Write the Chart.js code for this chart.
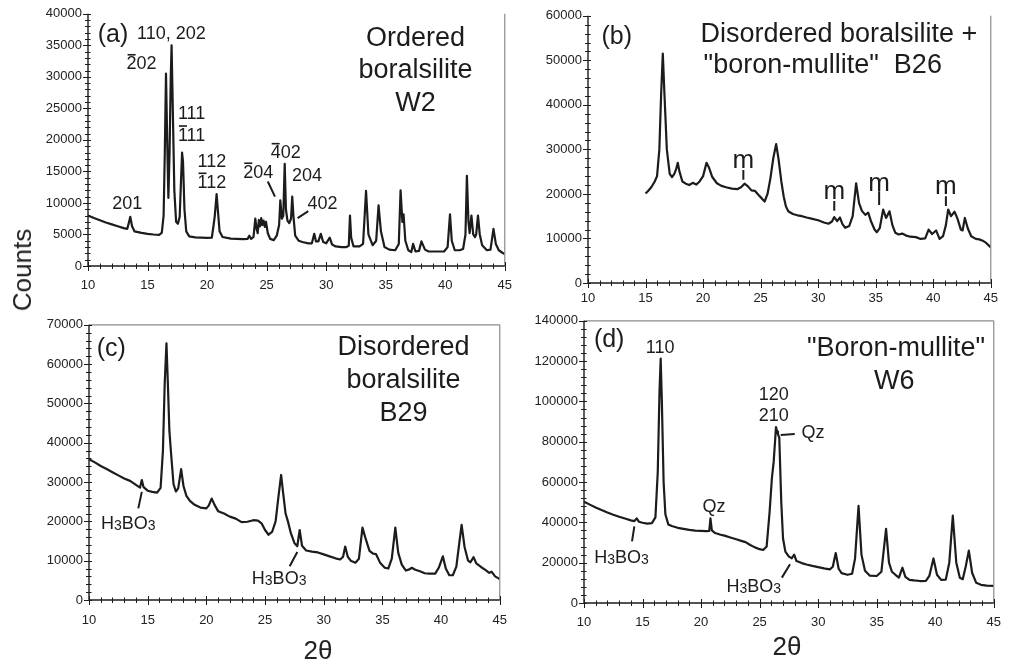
<!DOCTYPE html>
<html lang="en">
<head>
  <meta charset="UTF-8">
  <title>XRD patterns</title>
  <script src="https://cdn.jsdelivr.net/npm/chart.js"></script>
  <style>
    body { margin: 0; background: #fff; overflow: hidden; }
    #fig { position: relative; width: 1013px; height: 663px; font-family: 'Liberation Sans', Arial, sans-serif; color: #222; }
    #fig canvas { position: absolute; }
    .lbl { position: absolute; white-space: nowrap; font-size: 26px; line-height: 1; }
  </style>
</head>
<body>
<div id="fig">
  <canvas id="pa"></canvas>
  <canvas id="pb"></canvas>
  <canvas id="pc"></canvas>
  <canvas id="pd"></canvas>
  <div class="lbl" id="counts" style="left:22px; top:270px; transform: translate(-50%, -50%) rotate(-90deg);">Counts</div>
  <div class="lbl" style="left:318px; top:650px; transform: translate(-50%, -50%);">2θ</div>
  <div class="lbl" style="left:787px; top:646px; transform: translate(-50%, -50%);">2θ</div>
</div>

<script>
// ---- data: 2-theta (deg) and counts ----

// (a) ordered boralsilite W2
const aTheta = [10.0, 10.5, 11.0, 11.5, 12.0, 12.5, 13.0, 13.3, 13.45, 13.55, 13.7, 13.9, 14.5, 15.0, 15.5, 16.0, 16.2, 16.35, 16.45, 16.55,
  16.65, 16.75, 16.85, 16.95, 17.02, 17.12, 17.25, 17.4, 17.55, 17.7, 17.82, 17.9, 17.98, 18.1, 18.25, 18.5, 19.0, 19.5, 20.0, 20.4,
  20.55, 20.65, 20.8, 20.9, 21.05, 21.3, 22.0, 22.5, 23.0, 23.4, 23.55, 23.7, 23.9, 24.05, 24.15, 24.25, 24.35, 24.45, 24.55, 24.65,
  24.75, 24.85, 24.95, 25.1, 25.3, 25.6, 25.85, 26.05, 26.15, 26.28, 26.4, 26.52, 26.62, 26.75, 26.9, 27.05, 27.15, 27.25, 27.4, 27.7,
  28.0, 28.5, 28.8, 29.0, 29.15, 29.35, 29.55, 29.75, 30.0, 30.3, 30.5, 30.8, 31.3, 31.7, 31.9, 32.0, 32.1, 32.3, 32.8, 33.1,
  33.35, 33.55, 33.9, 34.2, 34.4, 34.6, 34.9, 35.3, 35.8, 36.1, 36.25, 36.4, 36.5, 36.65, 36.9, 37.15, 37.3, 37.5, 37.8, 38.0,
  38.3, 38.6, 39.0, 39.5, 39.9, 40.2, 40.4, 40.55, 40.8, 41.2, 41.5, 41.7, 41.82, 41.95, 42.05, 42.2, 42.35, 42.5, 42.6, 42.75,
  42.9, 43.1, 43.5, 43.8, 44.05, 44.25, 44.5, 44.8, 45.0];
const aCounts = [8000, 7600, 7250, 6900, 6600, 6300, 6000, 5900, 7000, 7800, 6300, 5500, 5250, 5100, 5000, 4950, 5300, 8000, 18000, 30500,
  20000, 10800, 18000, 30000, 35000, 25000, 12000, 7000, 6700, 7800, 14000, 18000, 16500, 9000, 5500, 4700, 4550, 4500, 4450, 4500,
  6500, 8000, 11400, 9000, 5500, 4600, 4350, 4300, 4250, 4300, 4800, 4300, 4600, 7500, 6000, 5200, 7300, 6300, 7600, 6500,
  7200, 6200, 7000, 5200, 4300, 4100, 4800, 6500, 10400, 7500, 8000, 16200, 9000, 7200, 6800, 7500, 11000, 8000, 4800, 4000,
  3800, 3600, 3600, 5100, 3900, 3900, 5100, 3800, 3600, 4500, 3400, 3100, 3000, 3000, 3200, 8000, 4500, 3100, 3100, 3500,
  11900, 5000, 3300, 4000, 9600, 5500, 3000, 2600, 2500, 3500, 12000, 7000, 8200, 4000, 2500, 2200, 3500, 2300, 2400, 3900,
  2600, 2300, 2300, 2300, 2300, 3000, 8200, 4000, 2500, 2500, 2700, 5000, 14300, 7000, 5200, 8000, 5000, 4600, 5000, 8000,
  5000, 3300, 2500, 2600, 5900, 3500, 2500, 2100, 1900];

// (b) disordered boralsilite + "boron-mullite" B26
const bTheta = [15.0, 15.2, 15.5, 15.8, 16.0, 16.2, 16.35, 16.5, 16.65, 16.85, 17.1, 17.3, 17.5, 17.65, 17.8, 17.95, 18.2, 18.5, 18.8, 19.1,
  19.4, 19.7, 20.0, 20.3, 20.5, 20.8, 21.2, 21.6, 22.0, 22.5, 23.0, 23.3, 23.6, 23.9, 24.2, 24.5, 24.8, 25.1, 25.35, 25.6,
  25.85, 26.1, 26.35, 26.55, 26.8, 27.0, 27.2, 27.4, 27.8, 28.2, 28.6, 29.0, 29.5, 30.0, 30.5, 30.9, 31.2, 31.4, 31.65, 31.9,
  32.1, 32.35, 32.7, 33.0, 33.3, 33.55, 33.8, 34.1, 34.35, 34.6, 34.9, 35.1, 35.35, 35.65, 35.9, 36.2, 36.45, 36.7, 37.0, 37.3,
  37.6, 38.0, 38.5, 38.9, 39.3, 39.6, 39.9, 40.25, 40.55, 40.85, 41.1, 41.3, 41.55, 41.85, 42.1, 42.4, 42.55, 42.75, 43.0, 43.3,
  43.7, 44.0, 44.3, 44.6, 45.0];
const bCounts = [20100, 20600, 21500, 22800, 24000, 30000, 42000, 51500, 42000, 30000, 24500, 23800, 24500, 25500, 27000, 25000, 22800, 22300, 22000, 22500,
  22100, 22800, 24000, 27000, 26000, 23800, 22400, 21800, 21500, 21200, 21100, 21500, 22300, 21700, 20800, 20700, 19800, 19000, 18300, 20000,
  23500, 28000, 31200, 28000, 22800, 19500, 17200, 16100, 15500, 15200, 15000, 14700, 14400, 14100, 13600, 13300, 13800, 14800, 13900, 14700,
  13300, 12400, 12800, 15000, 22400, 18000, 16200, 15300, 15800, 13800, 12000, 11400, 12300, 16500, 14600, 16100, 13000, 11300, 10900, 11100,
  10700, 10400, 10300, 9900, 10000, 12000, 11000, 11800, 9900, 10500, 13000, 16500, 15000, 16000, 14500, 12000, 11800, 14600, 12300, 10500,
  9900, 9800, 9500, 9000, 8000];

// (c) disordered boralsilite B29
const cTheta = [10.0, 10.5, 11.0, 11.5, 12.0, 12.5, 13.0, 13.5, 14.0, 14.35, 14.5, 14.65, 15.0, 15.4, 15.8, 16.1, 16.3, 16.45, 16.6, 16.72,
  16.85, 17.0, 17.2, 17.4, 17.6, 17.85, 18.05, 18.3, 18.6, 19.0, 19.5, 20.0, 20.2, 20.45, 20.7, 21.0, 21.5, 22.0, 22.5, 23.0,
  23.5, 24.0, 24.4, 24.7, 25.0, 25.3, 25.6, 25.9, 26.15, 26.37, 26.55, 26.75, 26.95, 27.2, 27.5, 27.75, 27.95, 28.15, 28.5, 29.0,
  29.5, 30.0, 30.5, 31.0, 31.4, 31.65, 31.83, 32.05, 32.3, 32.7, 33.0, 33.3, 33.55, 33.9, 34.2, 34.45, 34.8, 35.2, 35.5, 35.8,
  36.1, 36.35, 36.65, 37.0, 37.3, 37.5, 37.8, 38.2, 38.6, 39.0, 39.5, 39.8, 40.15, 40.4, 40.7, 41.0, 41.3, 41.55, 41.75, 42.0,
  42.3, 42.5, 42.77, 43.0, 43.4, 43.8, 44.1, 44.3, 44.6, 45.0];
const cCounts = [35800, 35000, 34100, 33300, 32500, 31700, 30900, 30300, 29300, 28600, 30500, 28700, 27800, 27500, 27300, 28500, 38000, 55000, 65300, 55000,
  43000, 37000, 29500, 27600, 28400, 33300, 29000, 26500, 25200, 24200, 23500, 23300, 24000, 25800, 24200, 22600, 22000, 21200, 20700, 19800,
  19900, 20300, 20200, 19500, 17800, 16600, 17300, 20000, 26500, 31800, 27000, 22000, 20000, 17000, 14500, 13700, 17800, 13800, 12600, 12300,
  12100, 11600, 11100, 10600, 10300, 11000, 13600, 11000, 10000, 9500, 10500, 18400, 15800, 12500, 11800, 11700, 9500, 8200, 8000, 10500,
  18400, 12000, 9000, 7500, 7800, 8200, 7700, 7300, 6800, 6700, 6700, 8200, 11100, 8000, 6300, 6300, 8500, 14500, 19100, 13500,
  10000, 9600, 10900, 9300, 8400, 7600, 6900, 7200, 6000, 5300];

// (d) "boron-mullite" W6
const dTheta = [10.0, 10.5, 11.0, 11.5, 12.0, 12.5, 13.0, 13.5, 14.0, 14.3, 14.5, 14.7, 15.0, 15.4, 15.8, 16.1, 16.3, 16.45, 16.55, 16.65,
  16.8, 16.95, 17.2, 17.5, 18.0, 18.5, 19.0, 19.5, 20.0, 20.4, 20.7, 20.8, 20.92, 21.2, 21.6, 22.0, 22.5, 23.0, 23.5, 23.8,
  24.2, 24.6, 25.0, 25.3, 25.6, 25.85, 26.05, 26.2, 26.4, 26.5, 26.57, 26.68, 26.85, 27.0, 27.2, 27.5, 27.75, 27.95, 28.15, 28.6,
  29.0, 29.5, 30.0, 30.5, 31.0, 31.25, 31.5, 31.75, 32.0, 32.5, 32.9, 33.15, 33.45, 33.7, 34.0, 34.4, 35.0, 35.4, 35.8, 36.05,
  36.3, 36.6, 36.9, 37.2, 37.45, 37.8, 38.2, 38.7, 39.2, 39.5, 39.85, 40.15, 40.5, 40.9, 41.2, 41.5, 41.8, 42.1, 42.35, 42.6,
  42.87, 43.15, 43.5, 43.9, 44.4, 45.0];
const dCounts = [50200, 48800, 47400, 46100, 44900, 43800, 42800, 41900, 41000, 40600, 42000, 40300, 39800, 39400, 39600, 42500, 65000, 105000, 121200, 100000,
  60000, 44000, 39000, 38200, 37300, 36800, 36300, 35900, 35800, 35700, 35800, 42000, 36000, 34700, 34000, 33400, 32500, 31600, 30700, 30200,
  28800, 27600, 26700, 26300, 28000, 45000, 62000, 70000, 87300, 85000, 83700, 82000, 50000, 32000, 25500, 23000, 22200, 24000, 20800, 19800,
  19100, 18400, 17800, 17200, 16700, 18000, 24800, 17000, 14800, 14000, 14500, 22000, 48200, 24000, 16000, 13600, 13400, 15500, 36800, 20000,
  15500, 14000, 12600, 17500, 13000, 11500, 11200, 10900, 11000, 13500, 22100, 14000, 11500, 11600, 20000, 43300, 20000, 12500, 11800, 18000,
  26000, 15000, 10000, 9000, 8600, 8500];

// axis ranges / tick steps
const xTicks = { min: 10, max: 45, major: 5, minor: 1 };
const aAxis = { max: 40000, major: 5000, minor: 1000 };
const bAxis = { max: 60000, major: 10000, minor: 2000 };
const cAxis = { max: 70000, major: 10000, minor: 2000 };
const dAxis = { max: 140000, major: 20000, minor: 4000 };

// text on the panels, placed in data units (2theta, counts); bar = index of overlined digit
const aNotes = [
  { t: '(a)', x: 12.1, y: 37000, s: 25 },
  { t: '110, 202', x: 17.0, y: 37000, s: 18 },
  { t: '202', bar: 0, x: 14.5, y: 32200, s: 18 },
  { t: '111', x: 18.7, y: 24400, s: 18 },
  { t: '111', bar: 0, x: 18.7, y: 20900, s: 18 },
  { t: '112', x: 20.4, y: 16700, s: 18 },
  { t: '112', bar: 0, x: 20.4, y: 13400, s: 18 },
  { t: '204', bar: 0, x: 24.3, y: 15000, s: 18 },
  { t: '402', bar: 0, x: 26.6, y: 18100, s: 18 },
  { t: '204', x: 28.4, y: 14500, s: 18 },
  { t: '402', x: 29.7, y: 10000, s: 18 },
  { t: '201', x: 13.3, y: 10000, s: 18 },
  { t: 'Ordered', x: 37.5, y: 36500, s: 27 },
  { t: 'boralsilite', x: 37.5, y: 31400, s: 27 },
  { t: 'W2', x: 37.5, y: 26200, s: 27 }
];
const aLeaders = [[25.1, 13400, 25.7, 11000], [28.5, 8700, 27.6, 7600]];

const bNotes = [
  { t: '(b)', x: 12.5, y: 55600, s: 25 },
  { t: 'Disordered boralsilite +', x: 31.8, y: 56300, s: 27 },
  { t: '"boron-mullite"  B26', x: 30.4, y: 49300, s: 27 },
  { t: 'm', x: 23.5, y: 27900, s: 26 },
  { t: 'm', x: 31.4, y: 20900, s: 26 },
  { t: 'm', x: 35.3, y: 22800, s: 26 },
  { t: 'm', x: 41.1, y: 22100, s: 26 }
];
const bLeaders = [[23.5, 25400, 23.5, 23200], [31.4, 18400, 31.4, 16200], [35.3, 20600, 35.3, 17500], [41.1, 19500, 41.1, 17300]];

const cNotes = [
  { t: '(c)', x: 11.9, y: 64300, s: 25 },
  { t: 'Disordered', x: 36.8, y: 64700, s: 27 },
  { t: 'boralsilite', x: 36.8, y: 56300, s: 27 },
  { t: 'B29', x: 36.8, y: 48000, s: 27 },
  { t: 'H_3BO_3', x: 13.35, y: 19800, s: 18 },
  { t: 'H_3BO_3', x: 26.2, y: 5700, s: 18 }
];
const cLeaders = [[14.2, 23300, 14.5, 27500], [27.1, 8600, 27.75, 12200]];

const dNotes = [
  { t: '(d)', x: 12.15, y: 131300, s: 25 },
  { t: '110', x: 16.5, y: 127000, s: 18 },
  { t: '120', x: 26.2, y: 103800, s: 18 },
  { t: '210', x: 26.2, y: 93500, s: 18 },
  { t: 'Qz', x: 29.55, y: 84900, s: 18 },
  { t: 'Qz', x: 21.1, y: 48300, s: 18 },
  { t: 'H_3BO_3', x: 13.2, y: 23200, s: 18 },
  { t: 'H_3BO_3', x: 24.5, y: 8500, s: 18 },
  { t: '"Boron-mullite"', x: 36.65, y: 127200, s: 27 },
  { t: 'W6', x: 36.5, y: 110800, s: 27 }
];
const dLeaders = [[26.8, 83300, 28.0, 83800], [14.1, 30600, 14.3, 38000], [26.9, 12600, 27.6, 19200]];

const FONT = "'Liberation Sans', Arial, sans-serif";
const INK = '#1c1c1c';
const YW = 70, XH = 45, PAD = 10;

function drawNote(ctx, n, px, py) {
  const parts = [];
  const re = /_(\d)|([^_]+)/g;
  let m;
  while ((m = re.exec(n.t))) parts.push(m[1] ? { s: m[1], sub: true } : { s: m[2], sub: false });
  const big = n.s + 'px ' + FONT, small = Math.round(n.s * 0.78) + 'px ' + FONT;
  let w = 0;
  parts.forEach(p => { ctx.font = p.sub ? small : big; p.w = ctx.measureText(p.s).width; w += p.w; });
  let x = px - w / 2;
  ctx.textBaseline = 'alphabetic';
  ctx.textAlign = 'left';
  const base = py + n.s * 0.36;
  parts.forEach(p => {
    ctx.font = p.sub ? small : big;
    ctx.fillText(p.s, x, base + (p.sub ? 1 : 0));
    x += p.w;
  });
  if (n.bar !== undefined) {
    ctx.font = big;
    const x0 = px - w / 2 + ctx.measureText(n.t.slice(0, n.bar)).width;
    const cw = ctx.measureText(n.t[n.bar]).width;
    ctx.fillRect(x0 + 1, base - n.s * 0.86, cw - 2, 1.6);
  }
}

function panel(id, plot, xs, ys, axis, xPad, notes, leaders, topFrame) {
  const cv = document.getElementById(id);
  const w = Math.round(plot.r - plot.l + YW + PAD);
  const h = Math.round(plot.b - plot.t + PAD + XH);
  cv.style.left = (plot.l - YW) + 'px';
  cv.style.top = (plot.t - PAD) + 'px';
  cv.width = w; cv.height = h;

  const decor = {
    id: 'decor',
    afterDatasetsDraw(chart) {
      const ctx = chart.ctx, a = chart.chartArea, sx = chart.scales.x, sy = chart.scales.y;
      ctx.save();
      // frame
      ctx.lineWidth = 1.2;
      ctx.strokeStyle = '#8a8a8a';
      ctx.beginPath();
      if (topFrame) { ctx.moveTo(a.left, a.top); ctx.lineTo(a.right, a.top); }
      ctx.moveTo(a.right, a.top); ctx.lineTo(a.right, a.bottom);
      ctx.stroke();
      ctx.strokeStyle = INK;
      ctx.lineWidth = 1.4;
      ctx.beginPath();
      ctx.moveTo(a.left, a.top); ctx.lineTo(a.left, a.bottom); ctx.lineTo(a.right, a.bottom);
      ctx.stroke();
      // tick marks
      ctx.lineWidth = 1;
      ctx.beginPath();
      for (let v = xTicks.min; v <= xTicks.max; v += xTicks.minor) {
        const px = Math.round(sx.getPixelForValue(v)) + 0.5;
        const big = v % xTicks.major === 0;
        ctx.moveTo(px, a.bottom - (big ? 4 : 2.5)); ctx.lineTo(px, a.bottom + (big ? 5 : 3));
      }
      for (let v = 0; v <= axis.max; v += axis.minor) {
        const py = Math.round(sy.getPixelForValue(v)) + 0.5;
        const big = v % axis.major === 0;
        ctx.moveTo(a.left - (big ? 5 : 3), py); ctx.lineTo(a.left + (big ? 3 : 2.5), py);
      }
      ctx.stroke();
      // notes and leader lines
      ctx.fillStyle = INK;
      notes.forEach(n => drawNote(ctx, n, sx.getPixelForValue(n.x), sy.getPixelForValue(n.y)));
      ctx.lineWidth = 2;
      ctx.beginPath();
      leaders.forEach(l => {
        ctx.moveTo(sx.getPixelForValue(l[0]), sy.getPixelForValue(l[1]));
        ctx.lineTo(sx.getPixelForValue(l[2]), sy.getPixelForValue(l[3]));
      });
      ctx.stroke();
      ctx.restore();
    }
  };

  return new Chart(cv, {
    type: 'line',
    data: {
      datasets: [{
        data: xs.map((x, i) => ({ x: x, y: ys[i] })),
        borderColor: INK,
        borderWidth: 2.2,
        borderJoinStyle: 'round',
        pointRadius: 0,
        tension: 0,
        fill: false
      }]
    },
    options: {
      responsive: false,
      animation: false,
      devicePixelRatio: 1,
      layout: { padding: { top: PAD, right: PAD, left: 0, bottom: 0 } },
      plugins: { legend: { display: false }, tooltip: { enabled: false } },
      scales: {
        x: {
          type: 'linear', min: xTicks.min, max: xTicks.max,
          grid: { display: false, drawTicks: false },
          border: { display: false },
          ticks: { stepSize: xTicks.major, padding: xPad, maxRotation: 0, autoSkip: false, color: '#222', font: { family: FONT, size: 13 } },
          afterFit: s => { s.height = XH; }
        },
        y: {
          min: 0, max: axis.max,
          grid: { display: false, drawTicks: false },
          border: { display: false },
          ticks: { stepSize: axis.major, padding: 6, color: '#222', font: { family: FONT, size: 13 }, callback: v => String(v) },
          afterFit: s => { s.width = YW; }
        }
      }
    },
    plugins: [decor]
  });
}

panel('pa', { l: 88, r: 514, t: 10, b: 265.6 }, aTheta, aCounts, aAxis, 12, aNotes, aLeaders, false);
panel('pb', { l: 588, r: 996, t: 11.7, b: 282.7 }, bTheta, bCounts, bAxis, 8, bNotes, bLeaders, false);
panel('pc', { l: 89, r: 510, t: 320.7, b: 599.3 }, cTheta, cCounts, cAxis, 13, cNotes, cLeaders, true);
panel('pd', { l: 584.3, r: 1003.3, t: 316.7, b: 602.3 }, dTheta, dCounts, dAxis, 12, dNotes, dLeaders, true);
</script>
</body>
</html>
